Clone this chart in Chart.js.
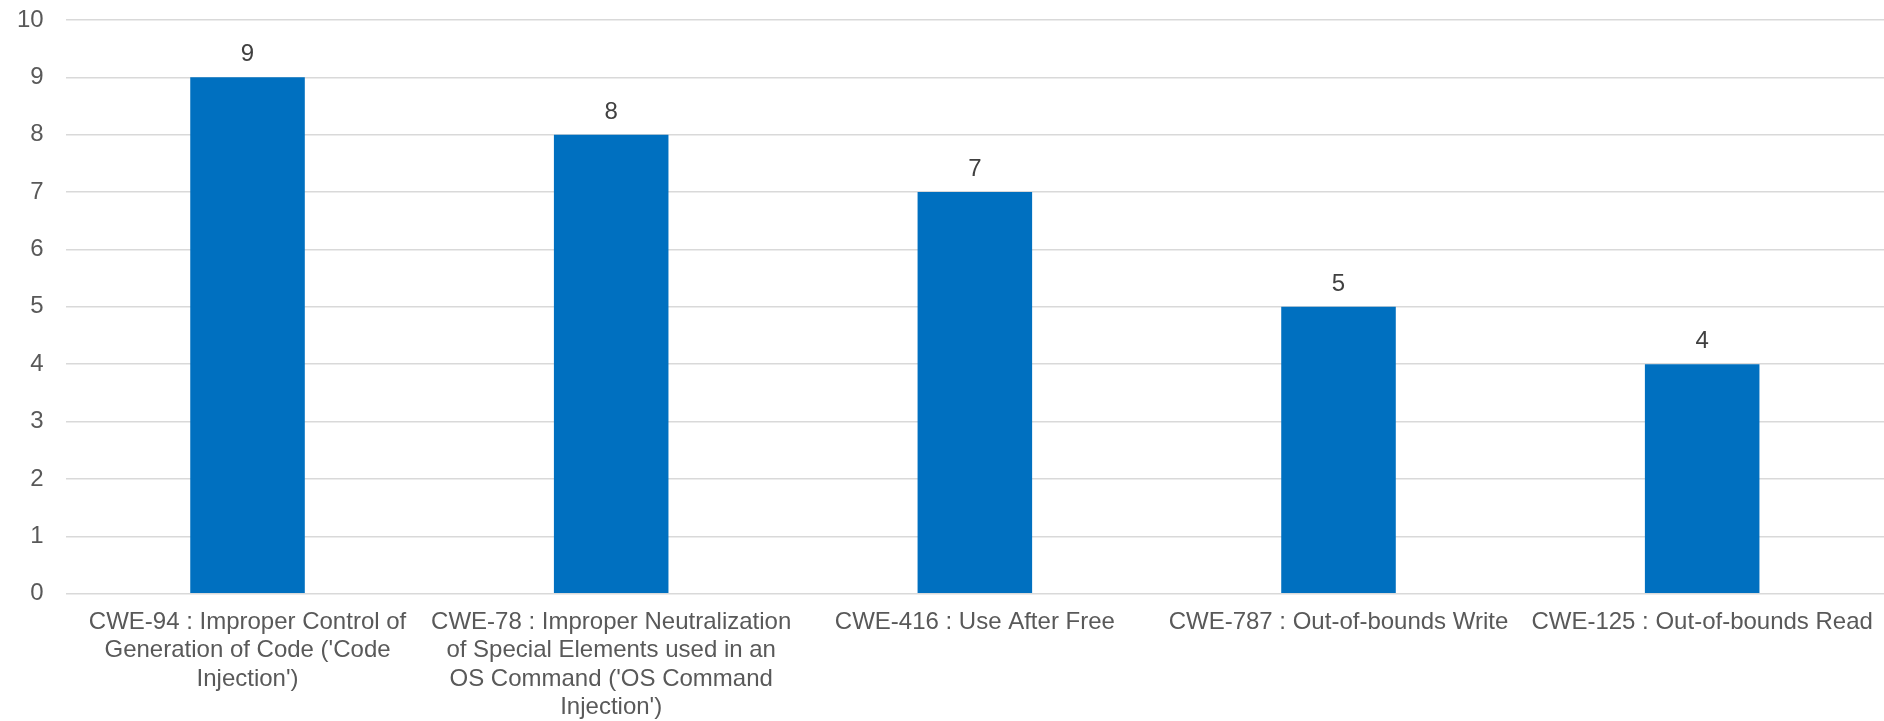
<!DOCTYPE html>
<html>
<head>
<meta charset="utf-8">
<script src="https://cdn.jsdelivr.net/npm/chart.js@4"></script>
<style>
  html, body { margin: 0; padding: 0; background: #fff; }
  #wrap { width: 1884px; height: 721px; position: relative; }
</style>
</head>
<body>
<div id="wrap"><canvas id="cweChart"></canvas></div>
<script>
// categories, wrapped the way the original chart wraps them
const categories = [
  ["CWE-94 : Improper Control of", "Generation of Code ('Code", "Injection')"],
  ["CWE-78 : Improper Neutralization", "of Special Elements used in an", "OS Command ('OS Command", "Injection')"],
  ["CWE-416 : Use After Free"],
  ["CWE-787 : Out-of-bounds Write"],
  ["CWE-125 : Out-of-bounds Read"]
];
const counts = [9, 8, 7, 5, 4];
const yTicks = [0, 1, 2, 3, 4, 5, 6, 7, 8, 9, 10];

const fontFamily = "'Liberation Sans', Arial, sans-serif";

// draw the value above each bar
const valueLabels = {
  id: "valueLabels",
  afterDatasetsDraw(chart) {
    const ctx = chart.ctx;
    const meta = chart.getDatasetMeta(0);
    ctx.save();
    ctx.font = "24px " + fontFamily;
    ctx.fillStyle = "#404040";
    ctx.textAlign = "center";
    ctx.textBaseline = "alphabetic";
    meta.data.forEach(function (bar, i) {
      ctx.fillText(String(counts[i]), bar.x, bar.y - 16);
    });
    ctx.restore();
  }
};

document.addEventListener("DOMContentLoaded", function () {
  const ctx = document.getElementById("cweChart").getContext("2d");

  new Chart(ctx, {
    type: "bar",
    data: {
      labels: categories,
      datasets: [
        {
          data: counts,
          backgroundColor: "#0070C0",
          barPercentage: 0.315,
          categoryPercentage: 1.0
        }
      ]
    },
    options: {
      responsive: true,
      maintainAspectRatio: false,
      animation: false,
      layout: { padding: { top: 20, right: 0, left: 17, bottom: 0 } },
      plugins: {
        legend: { display: false },
        tooltip: { enabled: false }
      },
      scales: {
        x: {
          // invisible tick marks give the gap above the labels
          grid: { display: false, drawTicks: true, tickLength: 15 },
          border: { display: false },
          ticks: {
            autoSkip: false,
            maxRotation: 0,
            minRotation: 0,
            padding: 0,
            color: "#595959",
            font: { family: fontFamily, size: 24, lineHeight: 1.17 }
          }
        },
        y: {
          min: 0,
          max: 10,
          afterBuildTicks: function (axis) {
            axis.ticks = yTicks.map(function (v) { return { value: v }; });
          },
          grid: {
            color: "#d9d9d9",
            lineWidth: 1.5,
            drawTicks: true,
            tickLength: 22,
            tickColor: "rgba(0,0,0,0)"
          },
          border: { display: false },
          ticks: {
            padding: 0,
            color: "#595959",
            font: { family: fontFamily, size: 24 }
          }
        }
      }
    },
    plugins: [valueLabels]
  });
});
</script>
</body>
</html>
